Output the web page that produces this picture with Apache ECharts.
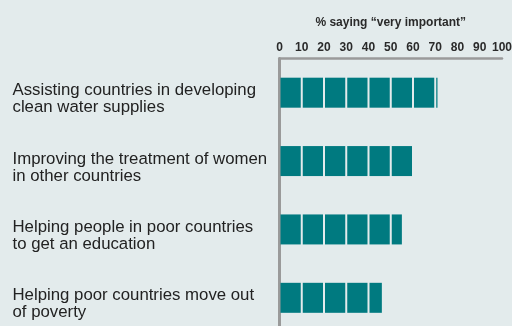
<!DOCTYPE html>
<html><head><meta charset="utf-8">
<script src="https://cdn.jsdelivr.net/npm/echarts@6/dist/echarts.min.js"></script>
<style>html,body{margin:0;padding:0;background:#e3ebec;}#c{width:512px;height:326px;}</style>
</head><body><div id="c"></div>
<script>
const categories = [
  "Assisting countries in developing\nclean water supplies",
  "Improving the treatment of women\nin other countries",
  "Helping people in poor countries\nto get an education",
  "Helping poor countries move out\nof poverty"
];
const values = [71, 60, 55, 46];
const tickStep = 10;
const axisTitle = "% saying \u201cvery important\u201d";

const FONT = '"Liberation Sans", Arial, sans-serif';
const chart = echarts.init(document.getElementById('c'));
chart.setOption({
  backgroundColor: '#e3ebec',
  animation: false,
  grid: { left: 279.5, right: 10, top: 58.5, bottom: -6, outerBoundsMode: 'none', containLabel: false },
  xAxis: {
    type: 'value', position: 'top', min: 0, max: 100, interval: tickStep,
    name: axisTitle, nameLocation: 'middle', nameGap: 30,
    nameTextStyle: { fontFamily: FONT, fontSize: 12, fontWeight: 'bold', color: '#2a2a2a' },
    axisLine: { show: true, lineStyle: { color: '#9a9a9a', width: 2.5 } },
    axisTick: { show: false },
    splitLine: { show: false },
    axisLabel: { fontFamily: FONT, fontSize: 12, fontWeight: 'bold', color: '#2a2a2a', margin: 5 }
  },
  yAxis: {
    type: 'category', inverse: true, data: categories,
    axisLine: { show: true, lineStyle: { color: '#9a9a9a', width: 3 } },
    axisTick: { show: false },
    axisLabel: {
      interval: 0, showMinLabel: true, showMaxLabel: true, hideOverlap: false,
      align: 'left', margin: 267, verticalAlign: 'middle',
      formatter: function (v) {
        return '{sp| }\n' + v.split('\n').map(s => '{t|' + s + '}').join('\n');
      },
      rich: {
        sp: { fontSize: 4, lineHeight: 13, fontFamily: FONT },
        t: { fontFamily: FONT, fontSize: 16.8, lineHeight: 17, color: '#222', align: 'left' }
      }
    }
  },
  series: [{
    type: 'custom',
    encode: { x: 0, y: 1 },
    data: values.map((v, i) => [v, i]),
    renderItem: function (params, api) {
      const v = api.value(0), idx = api.value(1);
      const c = api.coord([0, idx]);
      const h = 30;
      const children = [];
      for (let s = 0; s < v; s += tickStep) {
        const e = Math.min(s + tickStep, v);
        const x0 = api.coord([s, idx])[0] + 1;
        let x1 = api.coord([e, idx])[0];
        if (e === s + tickStep) x1 -= 1;
        children.push({ type: 'rect', shape: { x: x0, y: c[1] - h / 2, width: x1 - x0, height: h },
          style: { fill: '#007a80' } });
      }
      return { type: 'group', children: children };
    }
  }]
});
</script></body></html>
